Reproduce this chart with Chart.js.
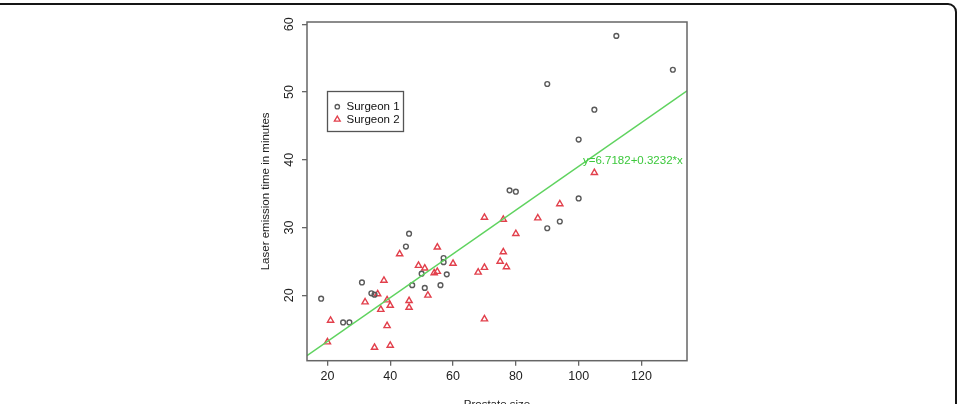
<!DOCTYPE html>
<html>
<head>
<meta charset="utf-8">
<script src="https://cdn.jsdelivr.net/npm/chart.js@4/dist/chart.umd.min.js"></script>
<style>
  html, body { margin:0; padding:0; background:#fff; overflow:hidden; }
  #wrap { position:relative; width:957px; height:404px; overflow:hidden; }
  #chart { position:absolute; left:0; top:0; }
  /* rounded page frame, its left side runs off the picture */
  #frame { position:absolute; left:-30px; top:3px; width:983px; height:600px;
           border:2px solid #151515; border-radius:9px; pointer-events:none; }
</style>
</head>
<body>
<div id="wrap">
  <canvas id="chart" width="957" height="420"></canvas>
  <div id="frame"></div>
</div>
<script>
// Surgeon 1 (open circles): prostate size, laser emission time
const s1X = [18, 25, 27, 31, 34, 35, 45, 46, 47, 50, 51, 56, 57, 57, 58, 78, 80, 90, 94, 100, 90, 100, 105, 112, 130];
const s1Y = [19.5, 16.0, 16.0, 21.9, 20.3, 20.1, 27.2, 29.1, 21.5, 23.2, 21.1, 21.5, 25.5, 24.9, 23.1, 35.5, 35.3, 29.9, 30.9, 34.3, 51.2, 43.0, 47.4, 58.3, 53.3];

// Surgeon 2 (open triangles)
const s2X = [20, 21, 32, 35, 36, 37, 38, 39, 39, 40, 40, 43, 46, 46, 49, 51, 52, 54, 55, 55, 60, 68, 70, 70, 70, 75, 76, 76, 77, 80, 87, 94, 105];
const s2Y = [13.1, 16.3, 19.0, 12.3, 20.2, 17.9, 22.2, 19.3, 15.5, 18.5, 12.6, 26.1, 19.2, 18.2, 24.4, 24.0, 20.0, 23.3, 23.5, 27.1, 24.7, 23.4, 24.1, 31.5, 16.5, 25.0, 26.4, 31.2, 24.2, 29.1, 31.4, 33.5, 38.1];

// fitted line end points, read at the plot edges
const fitX = [13.5, 134.5];
const fitY = [11.08, 50.19];
const fitLabel = 'y=6.7182+0.3232*x';

const xTicks = [20, 40, 60, 80, 100, 120];
const yTicks = [20, 30, 40, 50, 60];
const seriesNames = ['Surgeon 1', 'Surgeon 2'];

const FONT = "'Liberation Sans', Arial, sans-serif";
const AXIS = '#666';
const GREY = '#5a5a5a';
const RED = '#e2404c';
const GREEN = '#5fd35f';

const pts = (xs, ys) => xs.map((x, i) => ({ x, y: ys[i] }));

function drawTri(ctx, x, y, r){
  ctx.beginPath();
  ctx.moveTo(x, y - r);
  ctx.lineTo(x + 0.866 * r, y + 0.5 * r);
  ctx.lineTo(x - 0.866 * r, y + 0.5 * r);
  ctx.closePath();
  ctx.stroke();
}

// box, rotated y labels, legend and equation (R style)
const extras = {
  id: 'extras',
  afterDraw(chart){
    const ctx = chart.ctx;
    const a = chart.chartArea;
    const ys = chart.scales.y;
    ctx.save();
    ctx.strokeStyle = AXIS;
    ctx.lineWidth = 1.5;
    ctx.strokeRect(a.left, a.top, a.right - a.left, a.bottom - a.top);

    ctx.fillStyle = '#222';
    ctx.font = '12.5px ' + FONT;
    ctx.textAlign = 'center';
    ctx.textBaseline = 'middle';
    yTicks.forEach(v => {
      ctx.save();
      ctx.translate(290, ys.getPixelForValue(v));
      ctx.rotate(-Math.PI / 2);
      ctx.fillText(String(v), 0, 0);
      ctx.restore();
    });

    // legend
    ctx.strokeStyle = '#555';
    ctx.lineWidth = 1.3;
    ctx.strokeRect(327.5, 91.5, 76, 40);
    ctx.textAlign = 'left';
    ctx.fillStyle = '#111';
    ctx.font = '11.5px ' + FONT;
    ctx.fillText(seriesNames[0], 346.5, 107);
    ctx.fillText(seriesNames[1], 346.5, 119.5);
    ctx.lineWidth = 1.3;
    ctx.strokeStyle = GREY;
    ctx.beginPath(); ctx.arc(337.3, 106.7, 2.2, 0, Math.PI * 2); ctx.stroke();
    ctx.strokeStyle = RED;
    drawTri(ctx, 337.3, 119.5, 3.4);

    // equation
    ctx.fillStyle = '#3cc83c';
    ctx.font = '11.5px ' + FONT;
    ctx.fillText(fitLabel, 583, 160.5);
    ctx.restore();
  }
};

new Chart(document.getElementById('chart'), {
  type: 'scatter',
  data: {
    datasets: [
      { label: seriesNames[0], data: pts(s1X, s1Y), pointStyle: 'circle', pointRadius: 2.4,
        borderColor: GREY, backgroundColor: 'rgba(0,0,0,0)', borderWidth: 1.4 },
      { label: seriesNames[1], data: pts(s2X, s2Y), pointStyle: 'triangle', pointRadius: 3.6,
        borderColor: RED, backgroundColor: 'rgba(0,0,0,0)', borderWidth: 1.4 },
      { type: 'line', label: 'fit', data: pts(fitX, fitY), borderColor: GREEN, borderWidth: 1.5,
        pointRadius: 0, fill: false, order: -1 }
    ]
  },
  options: {
    responsive: false,
    animation: false,
    devicePixelRatio: 1,
    layout: { padding: { left: 250, right: 270, top: 22, bottom: 0 } },
    plugins: { legend: { display: false }, tooltip: { enabled: false } },
    scales: {
      x: {
        type: 'linear', min: 13.5, max: 134.5,
        afterBuildTicks: s => { s.ticks = xTicks.map(v => ({ value: v })); },
        afterFit: s => { s.height = 59.3; },
        grid: { drawOnChartArea: false, drawTicks: true, tickLength: 5, color: AXIS, lineWidth: 1.3 },
        border: { display: false },
        ticks: { color: '#222', font: { family: FONT, size: 12.5 }, padding: 3, maxRotation: 0, autoSkip: false },
        title: { display: true, text: 'Prostate size', color: '#222',
                 font: { family: FONT, size: 11.5 }, padding: { top: 0, bottom: 8.6 } }
      },
      y: {
        type: 'linear', min: 10.35, max: 60.35,
        afterBuildTicks: s => { s.ticks = yTicks.map(v => ({ value: v })); },
        afterFit: s => { s.width = 57; },
        grid: { drawOnChartArea: false, drawTicks: true, tickLength: 5, color: AXIS, lineWidth: 1.3 },
        border: { display: false },
        ticks: { display: false },
        title: { display: true, text: 'Laser emission time in minutes', color: '#222',
                 font: { family: FONT, size: 11.5 }, padding: { top: 9, bottom: 0 } }
      }
    }
  },
  plugins: [extras]
});
</script>
</body>
</html>
